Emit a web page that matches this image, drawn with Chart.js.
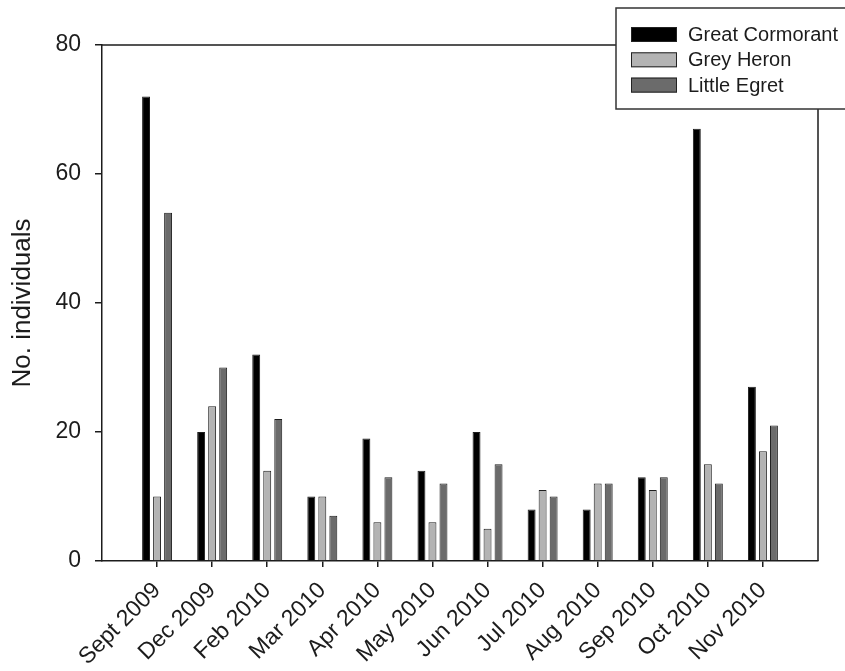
<!DOCTYPE html>
<html>
<head>
<meta charset="utf-8">
<script src="https://cdn.jsdelivr.net/npm/chart.js@4/dist/chart.umd.min.js"></script>
<style>
  html, body { margin: 0; padding: 0; background: #ffffff; }
  #wrap { width: 845px; height: 671px; }
</style>
</head>
<body>
<div id="wrap"><canvas id="c" width="845" height="671"></canvas></div>
<script>
// Monthly counts of waterbirds
const months = ['Sept 2009', 'Dec 2009', 'Feb 2010', 'Mar 2010', 'Apr 2010', 'May 2010',
                'Jun 2010', 'Jul 2010', 'Aug 2010', 'Sep 2010', 'Oct 2010', 'Nov 2010'];
const greatCormorant = [72, 20, 32, 10, 19, 14, 20, 8, 8, 13, 67, 27];
const greyHeron      = [10, 24, 14, 10, 6, 6, 5, 11, 12, 11, 15, 17];
const littleEgret    = [54, 30, 22, 7, 13, 12, 15, 10, 12, 13, 12, 21];
const yTicks = [0, 20, 40, 60, 80];

const FONT = "'Liberation Sans', Arial, Helvetica, sans-serif";
const INK = '#1c1c1c';

// Category scale that leaves a full empty slot before the first and after the last month
class PaddedCategoryScale extends Chart.CategoryScale {
  buildTicks() {
    const ticks = super.buildTicks();
    this._startValue -= 0.5;
    this._valueRange += 1;
    return ticks;
  }
}
PaddedCategoryScale.id = 'paddedCategory';
PaddedCategoryScale.defaults = Chart.CategoryScale.defaults;
Chart.register(PaddedCategoryScale);

// Closes the plot box on the top and right sides
const frame = {
  id: 'frame',
  beforeDatasetsDraw(chart) {
    const {ctx, chartArea: a} = chart;
    ctx.save();
    ctx.strokeStyle = INK;
    ctx.lineWidth = 1.5;
    ctx.beginPath();
    ctx.moveTo(a.left, a.top);
    ctx.lineTo(a.right, a.top);
    ctx.lineTo(a.right, a.bottom);
    ctx.stroke();
    ctx.restore();
  }
};

// Boxed legend in the upper-right corner
const boxLegend = {
  id: 'boxLegend',
  afterDraw(chart) {
    const {ctx} = chart;
    const x0 = 616, y0 = 8, w = 240, h = 101;
    ctx.save();
    ctx.fillStyle = '#ffffff';
    ctx.fillRect(x0, y0, w, h);
    ctx.strokeStyle = '#333333';
    ctx.lineWidth = 1.5;
    ctx.strokeRect(x0, y0, w, h);
    ctx.font = '20px ' + FONT;
    ctx.textBaseline = 'middle';
    ctx.textAlign = 'left';
    chart.data.datasets.forEach((ds, i) => {
      const cy = 34.5 + i * 25.3;
      ctx.fillStyle = ds.backgroundColor;
      ctx.fillRect(631, cy - 7.5, 46, 15);
      ctx.strokeStyle = '#222222';
      ctx.lineWidth = 1;
      ctx.strokeRect(631.5, cy - 7, 45, 14);
      ctx.fillStyle = INK;
      ctx.fillText(ds.label, 688, cy + 1);
    });
    ctx.restore();
  }
};

const barStyle = { borderColor: '#1e1e1e', borderWidth: 1, borderSkipped: 'bottom' };

new Chart(document.getElementById('c'), {
  type: 'bar',
  data: {
    labels: months,
    datasets: [
      Object.assign({ label: 'Great Cormorant', data: greatCormorant, backgroundColor: '#000000' }, barStyle),
      Object.assign({ label: 'Grey Heron', data: greyHeron, backgroundColor: '#b3b3b3' }, barStyle),
      Object.assign({ label: 'Little Egret', data: littleEgret, backgroundColor: '#6b6b6b' }, barStyle)
    ]
  },
  options: {
    responsive: false,
    animation: false,
    devicePixelRatio: 1,
    layout: { padding: { left: 0, right: 27, top: 45, bottom: 0 } },
    categoryPercentage: 0.6,
    barPercentage: 0.72,
    plugins: { legend: { display: false }, tooltip: { enabled: false } },
    scales: {
      x: {
        type: 'paddedCategory',
        offset: true,
        grid: { display: true, offset: false, drawOnChartArea: false, drawTicks: true, tickLength: 6, color: INK, lineWidth: 1.5 },
        border: { display: true, color: INK, width: 1.5 },
        ticks: {
          color: INK,
          font: { family: FONT, size: 23 },
          minRotation: 45,
          maxRotation: 45,
          padding: 10,
          autoSkip: false
        },
        afterFit(scale) { scale.height = 110; }
      },
      y: {
        min: 0,
        max: 80,
        afterBuildTicks(scale) { scale.ticks = yTicks.map(v => ({ value: v })); },
        grid: { display: true, drawOnChartArea: false, drawTicks: true, tickLength: 7, color: INK, lineWidth: 1.5 },
        border: { display: true, color: INK, width: 1.5 },
        ticks: { color: INK, font: { family: FONT, size: 23 }, padding: 14 },
        title: {
          display: true,
          text: 'No. individuals',
          color: INK,
          font: { family: FONT, size: 26 },
          padding: { top: 7, bottom: 0 }
        },
        afterFit(scale) { scale.width = 102; }
      }
    }
  },
  plugins: [frame, boxLegend]
});
</script>
</body>
</html>
